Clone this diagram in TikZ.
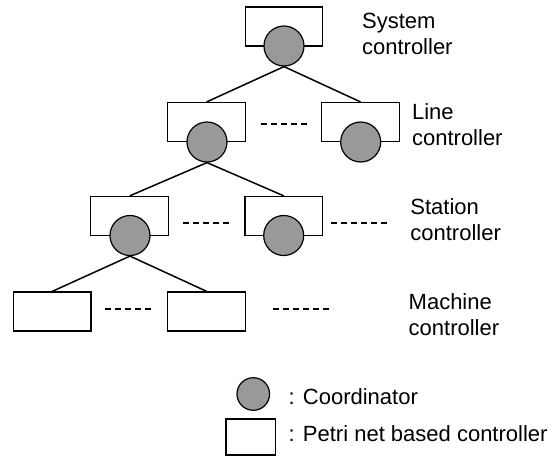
\documentclass[tikz,border=0pt]{standalone}
\usepackage{fontspec}
\setmainfont{Liberation Sans}
\begin{document}
\begin{tikzpicture}[x=0.5pt,y=-0.5pt,
  ctrlbox/.style={draw=black,line width=0.6pt,fill=white,minimum width=38.8pt,minimum height=19.5pt,inner sep=0pt},
  coord/.style={circle,draw=black,line width=0.6pt,fill=coordgray,minimum size=20pt,inner sep=0pt},
  link/.style={line width=0.75pt},
  gap/.style={line width=0.6pt,dash pattern=on 3pt off 2pt},
  lbl/.style={anchor=base west,align=left,inner sep=0pt,font=\fontsize{11pt}{13pt}\selectfont}]
\definecolor{coordgray}{RGB}{153,153,153}
\useasboundingbox (0,0) rectangle (554,456);

% controller boxes
\node[ctrlbox] (sysB) at (284,26.5) {};
\node[ctrlbox] (l1B) at (206.7,122) {};
\node[ctrlbox] (l2B) at (360.5,122) {};
\node[ctrlbox] (s1B) at (129.7,216) {};
\node[ctrlbox] (s2B) at (283.9,216) {};
\node[ctrlbox] (m1B) at (52.2,311.5) {};
\node[ctrlbox] (m2B) at (206.7,311.5) {};

% coordinators sitting on the lower edges
\node[coord] (sysC) at (284,46) {};
\node[coord] (l1C) at (207,142) {};
\node[coord] (l2C) at (360.7,142) {};
\node[coord] (s1C) at (130,235.5) {};
\node[coord] (s2C) at (283.7,235.5) {};

% hierarchy links
\draw[link] (sysC.south) -- (l1B.north);
\draw[link] (sysC.south) -- (l2B.north);
\draw[link] (l1C.south) -- (s1B.north);
\draw[link] (l1C.south) -- (s2B.north);
\draw[link] (s1C.south) -- (m1B.north);
\draw[link] (s1C.south) -- (m2B.north);

% elided siblings
\coordinate (d1a) at (261,124);   \coordinate (d1b) at (308,124);
\coordinate (d2a) at (182.7,223); \coordinate (d2b) at (231.7,223);
\coordinate (d3a) at (331,223);   \coordinate (d3b) at (387,223);
\coordinate (d4a) at (105,309);   \coordinate (d4b) at (154.3,309);
\coordinate (d5a) at (273.3,309); \coordinate (d5b) at (333.3,309);
\draw[gap] (d1a) -- (d1b);
\draw[gap] (d2a) -- (d2b);
\draw[gap] (d3a) -- (d3b);
\draw[gap] (d4a) -- (d4b);
\draw[gap] (d5a) -- (d5b);

% level names (anchored at the baseline of the lower line)
\node[lbl] (tSys) at (361.7,54.3) {System\\controller};
\node[lbl] (tLine) at (411.7,145.7) {Line\\controller};
\node[lbl] (tSta) at (410,240.7) {Station\\controller};
\node[lbl] (tMac) at (408.3,335) {Machine\\controller};

% legend
\node[coord,minimum size=16.3pt] (kC) at (253.3,394) {};
\node[ctrlbox,minimum width=24.8pt,minimum height=18pt] (kB) at (250.8,437) {};
\node[lbl] (kCt) at (288.3,404) {: Coordinator};
\node[lbl] (kBt) at (288.3,441.7) {: Petri net based controller};
\end{tikzpicture}
\end{document}
